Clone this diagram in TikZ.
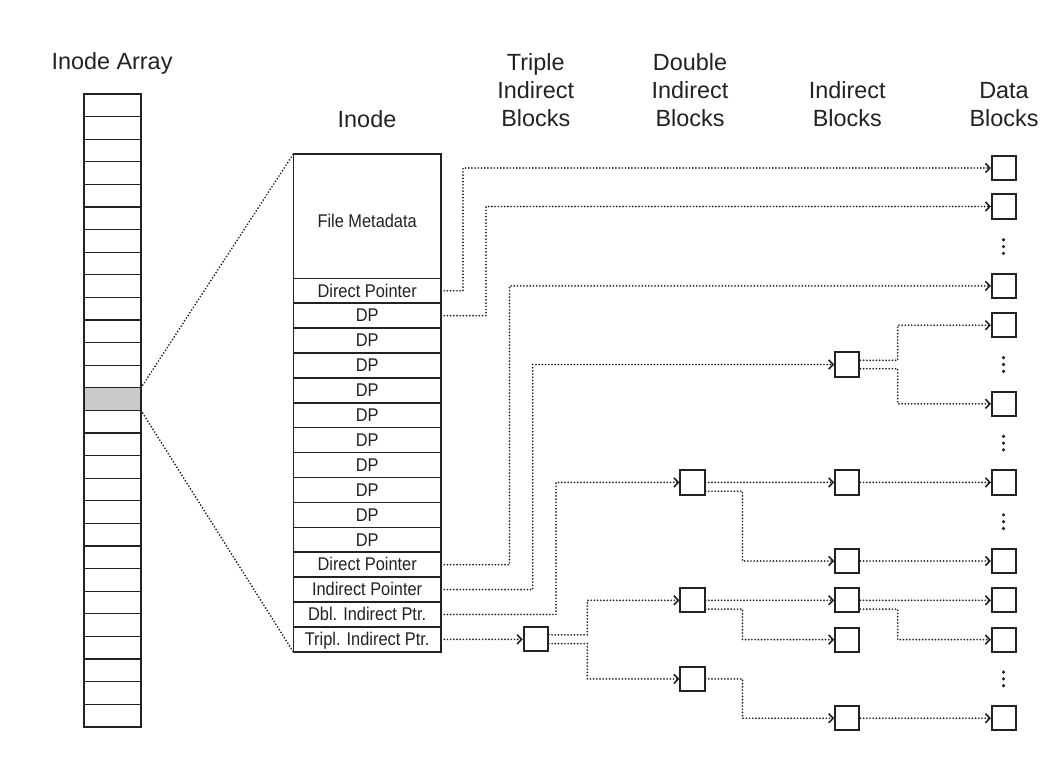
\documentclass[tikz,border=0pt]{standalone}
\usepackage{fontspec}
\setmainfont{Liberation Sans}
\newfontfamily\condfont[FakeStretch=0.89]{Liberation Sans}
\usetikzlibrary{arrows.meta,calc}
\definecolor{ink}{HTML}{222222}
\definecolor{shade}{HTML}{CACACA}
\begin{document}
\begin{tikzpicture}[x=0.5pt,y=-0.5pt,
  hdr/.style={anchor=base,inner sep=0pt,font=\fontsize{11.7}{14}\selectfont,text=ink},
  cell/.style={draw=ink,line width=0.65pt,minimum width=28.5pt,minimum height=11.3pt,inner sep=0pt,outer sep=0pt},
  irow/.style={draw=ink,line width=0.75pt,minimum width=73.85pt,minimum height=12.45pt,inner sep=0pt,outer sep=0pt,
    font=\condfont\fontsize{9.2}{10}\selectfont,text=ink,text height=6.3pt,text depth=0pt},
  blk/.style={draw=ink,line width=1pt,minimum size=12.1pt,inner sep=0pt},
  ptr/.style={draw=ink,line width=0.95pt,dash pattern=on 0pt off 1.6pt,line cap=round},
  arr/.style={ptr,-{Straight Barb[length=2.2pt,width=4.6pt,line width=0.8pt]}},
  dot/.style={fill=ink}
]
\fill[white] (0,0) rectangle (1042,767);
\useasboundingbox (0,0) rectangle (1042,767);

% ---- headers
\node[hdr] (hA) at (112,69) {Inode Array};
\node[hdr] (hI) at (367,127) {Inode};
\node[hdr] (hT1) at (535.8,70.7) {Triple};
\node[hdr] (hT2) at (535.8,98) {Indirect};
\node[hdr] (hT3) at (535.8,126) {Blocks};
\node[hdr] (hD1) at (690,70.7) {Double};
\node[hdr] (hD2) at (690,98) {Indirect};
\node[hdr] (hD3) at (690,126) {Blocks};
\node[hdr] (hS2) at (847.3,98) {Indirect};
\node[hdr] (hS3) at (847.3,126) {Blocks};
\node[hdr] (hB2) at (1004,98) {Data};
\node[hdr] (hB3) at (1004,126) {Blocks};

% ---- inode array
\foreach \k in {0,...,12} {\node[cell] (a\k) at (112.5,{105.3+22.6*\k}) {};}
\foreach \k in {14,...,27} {\node[cell] (a\k) at (112.5,{105.3+22.6*\k}) {};}
\node[cell,fill=shade] (a13) at (112.5,{105.3+22.6*13}) {};
\draw[ink,line width=0.9pt] (a0.north west) rectangle (a27.south east);

% ---- inode
\node[irow,minimum height=62.15pt,text height=11.3pt] (meta) at (367.15,216.15) {File Metadata};
\node[irow] (r1) at (367.15,290.75) {Direct Pointer};
\foreach \k in {2,...,11} {\node[irow] (r\k) at (367.15,{290.75+24.9*(\k-1)}) {DP};}
\node[irow] (r12) at (367.15,{290.75+24.9*11}) {Direct Pointer};
\node[irow] (r13) at (367.15,{290.75+24.9*12}) {Indirect Pointer};
\node[irow] (r14) at (367.15,{290.75+24.9*13}) {Dbl. Indirect Ptr.};
\node[irow] (r15) at (367.15,{290.75+24.9*14}) {Tripl. Indirect Ptr.};

% ---- zoom lines
\draw[ptr] (a13.north east) -- (meta.north west);
\draw[ptr] (a13.south east) -- (r15.south west);

% ---- blocks
\node[blk] (t12) at (535.8,639.2) {};
\node[blk] (b8)  at (692.5,482.4) {};
\node[blk] (b11) at (692.5,600.3) {};
\node[blk] (b13) at (692.5,678.9) {};
\node[blk] (i5)  at (847.3,364.5) {};
\node[blk] (i8)  at (847.3,482.4) {};
\node[blk] (i10) at (847.3,561) {};
\node[blk] (i11) at (847.3,600.3) {};
\node[blk] (i12) at (847.3,639.6) {};
\node[blk] (i14) at (847.3,718.2) {};
\node[blk] (d0)  at (1004,168) {};
\node[blk] (d1)  at (1004,206.5) {};
\node[blk] (d3)  at (1004,285.9) {};
\node[blk] (d4)  at (1004,325.2) {};
\node[blk] (d6)  at (1004,403.8) {};
\node[blk] (d8)  at (1004,482.4) {};
\node[blk] (d10) at (1004,561) {};
\node[blk] (d11) at (1004,600.3) {};
\node[blk] (d12) at (1004,639.6) {};
\node[blk] (d14) at (1004,718.2) {};

% ---- vertical ellipses in data column
\foreach \y in {246.6,364.5,443.1,521.7,678.9} {
  \fill[dot] (1003.5,{\y-6.8}) circle (0.9pt);
  \fill[dot] (1003.5,\y) circle (0.9pt);
  \fill[dot] (1003.5,{\y+6.8}) circle (0.9pt);
}

% ---- elbow columns
\coordinate (x1) at (463,0);
\coordinate (x2) at (486,0);
\coordinate (x3) at (509.5,0);
\coordinate (x4) at (532.7,0);
\coordinate (x5) at (556,0);
\coordinate (x6) at (587.3,0);
\coordinate (x7) at (742.5,0);
\coordinate (x8) at (897.7,0);

% ---- inode pointers
\draw[arr] (r1.east) -- (r1.east -| x1) |- (d0.west);
\draw[arr] (r2.east) -- (r2.east -| x2) |- (d1.west);
\draw[arr] (r12.east) -- (r12.east -| x3) |- (d3.west);
\draw[arr] (r13.east) -- (r13.east -| x4) |- (i5.west);
\draw[arr] (r14.east) -- (r14.east -| x5) |- (b8.west);
\draw[arr] (r15.east) -- (r15.east -| t12.west);

% ---- triple indirect block
\draw[arr] ([yshift=2.2pt]t12.east) -- ([yshift=2.2pt]t12.east -| x6) |- (b11.west);
\draw[arr] ([yshift=-2.2pt]t12.east) -- ([yshift=-2.2pt]t12.east -| x6) |- (b13.west);

% ---- double indirect blocks
\draw[arr] (b8.east) -- (i8.west);
\draw[arr] ([yshift=-4.4pt]b8.east) -- ([yshift=-4.4pt]b8.east -| x7) |- (i10.west);
\draw[arr] (b11.east) -- (i11.west);
\draw[arr] ([yshift=-4.4pt]b11.east) -- ([yshift=-4.4pt]b11.east -| x7) |- (i12.west);
\draw[arr] (b13.east) -- (b13.east -| x7) |- (i14.west);

% ---- indirect blocks
\draw[arr] ([yshift=2.1pt]i5.east) -- ([yshift=2.1pt]i5.east -| x8) |- (d4.west);
\draw[arr] ([yshift=-2.1pt]i5.east) -- ([yshift=-2.1pt]i5.east -| x8) |- (d6.west);
\draw[arr] (i8.east) -- (d8.west);
\draw[arr] (i10.east) -- (d10.west);
\draw[arr] (i11.east) -- (d11.west);
\draw[arr] ([yshift=-4.4pt]i11.east) -- ([yshift=-4.4pt]i11.east -| x8) |- (d12.west);
\draw[arr] (i14.east) -- (d14.west);
\end{tikzpicture}
\end{document}
